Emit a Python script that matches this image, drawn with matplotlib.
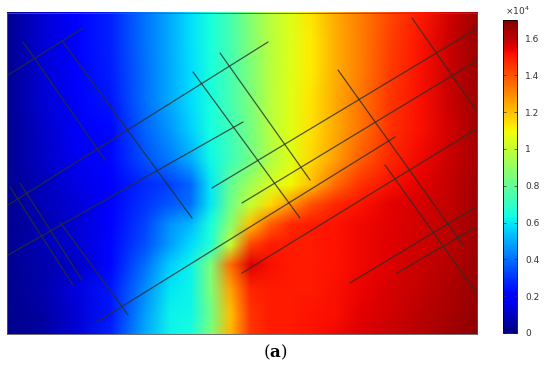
import numpy as np
import matplotlib
matplotlib.use("Agg")
import matplotlib.pyplot as plt
from matplotlib.image import NonUniformImage

# pressure field (units of 1e4), rows top -> bottom
x_pos = [7, 40, 75, 110, 145, 170, 190, 210, 230, 250, 270, 290, 310, 335, 360, 390, 420, 450, 477]
y_pos = [13, 40, 70, 100, 130, 160, 185, 205, 225, 245, 265, 290, 315, 334]

p_y013 = [0.03, 0.12, 0.20, 0.27, 0.41, 0.50, 0.59, 0.65, 0.74, 0.87, 0.98, 1.05, 1.13, 1.24, 1.32, 1.42, 1.50, 1.58, 1.66]
p_y040 = [0.03, 0.12, 0.20, 0.27, 0.41, 0.50, 0.59, 0.65, 0.74, 0.86, 0.97, 1.05, 1.12, 1.23, 1.32, 1.43, 1.51, 1.59, 1.66]
p_y070 = [0.03, 0.12, 0.19, 0.26, 0.40, 0.50, 0.58, 0.65, 0.74, 0.85, 0.97, 1.05, 1.12, 1.23, 1.32, 1.44, 1.52, 1.59, 1.66]
p_y100 = [0.03, 0.12, 0.18, 0.25, 0.40, 0.50, 0.58, 0.65, 0.74, 0.85, 0.97, 1.06, 1.13, 1.24, 1.33, 1.45, 1.52, 1.59, 1.65]
p_y130 = [0.03, 0.10, 0.18, 0.22, 0.38, 0.47, 0.56, 0.64, 0.73, 0.84, 0.97, 1.06, 1.14, 1.24, 1.34, 1.46, 1.52, 1.58, 1.65]
p_y160 = [0.03, 0.10, 0.17, 0.22, 0.35, 0.42, 0.50, 0.63, 0.72, 0.83, 0.96, 1.05, 1.15, 1.26, 1.38, 1.48, 1.53, 1.59, 1.64]
p_y185 = [0.03, 0.08, 0.15, 0.20, 0.28, 0.32, 0.38, 0.60, 0.80, 0.93, 1.03, 1.10, 1.20, 1.35, 1.46, 1.52, 1.55, 1.60, 1.65]
p_y205 = [0.03, 0.08, 0.13, 0.20, 0.30, 0.36, 0.40, 0.60, 0.83, 1.00, 1.15, 1.28, 1.40, 1.48, 1.51, 1.55, 1.57, 1.60, 1.65]
p_y225 = [0.03, 0.07, 0.12, 0.20, 0.33, 0.46, 0.52, 0.65, 0.88, 1.20, 1.38, 1.47, 1.50, 1.51, 1.53, 1.55, 1.58, 1.61, 1.65]
p_y245 = [0.03, 0.08, 0.12, 0.22, 0.35, 0.48, 0.58, 0.66, 1.00, 1.42, 1.50, 1.50, 1.50, 1.51, 1.53, 1.56, 1.58, 1.61, 1.65]
p_y265 = [0.03, 0.07, 0.10, 0.22, 0.40, 0.56, 0.62, 0.85, 1.35, 1.56, 1.52, 1.50, 1.50, 1.51, 1.53, 1.56, 1.59, 1.62, 1.66]
p_y290 = [0.02, 0.06, 0.14, 0.25, 0.45, 0.60, 0.62, 0.85, 1.25, 1.48, 1.50, 1.50, 1.50, 1.52, 1.54, 1.57, 1.60, 1.63, 1.66]
p_y315 = [0.02, 0.05, 0.12, 0.25, 0.48, 0.62, 0.63, 0.82, 1.20, 1.45, 1.50, 1.50, 1.51, 1.52, 1.55, 1.58, 1.61, 1.64, 1.67]
p_y334 = [0.02, 0.05, 0.13, 0.27, 0.50, 0.62, 0.65, 0.85, 1.22, 1.45, 1.50, 1.50, 1.51, 1.53, 1.56, 1.59, 1.62, 1.65, 1.67]

# fracture segments (x0, y0, x1, y1), y measured from the top
fractures = [
    (8, 75, 83, 28),
    (23, 42, 105, 160),
    (63, 42, 192, 218),
    (8, 205, 268, 42),
    (8, 255, 243, 122),
    (10, 187, 73, 285),
    (20, 183, 82, 280),
    (60, 222, 128, 315),
    (97, 322, 395, 137),
    (193, 72, 300, 218),
    (220, 53, 310, 180),
    (212, 188, 478, 28),
    (242, 203, 478, 60),
    (242, 273, 478, 128),
    (338, 70, 463, 245),
    (412, 18, 476, 110),
    (385, 165, 476, 292),
    (350, 283, 476, 207),
    (397, 273, 476, 227),
]

cbar_ticks = [0, 0.2, 0.4, 0.6, 0.8, 1.0, 1.2, 1.4, 1.6]
cbar_labels = ['0', '0.2', '0.4', '0.6', '0.8', '1', '1.2', '1.4', '1.6']

field = np.array([p_y013, p_y040, p_y070, p_y100, p_y130, p_y160, p_y185,
                  p_y205, p_y225, p_y245, p_y265, p_y290, p_y315, p_y334])

fig = plt.figure(figsize=(5.5, 3.74), dpi=100)
ax = fig.add_axes([7 / 550, 1 - 334 / 374, 470 / 550, 321 / 374])
im = NonUniformImage(ax, interpolation='bilinear', cmap='jet',
                     extent=(x_pos[0], x_pos[-1], y_pos[-1], y_pos[0]))
im.set_data(np.array(x_pos, float), np.array(y_pos, float), field)
im.set_clim(0, 1.7)
ax.add_image(im)
for x0, y0, x1, y1 in fractures:
    ax.plot([x0, x1], [y0, y1], color='#2a2f2a', lw=0.9, alpha=0.8, solid_capstyle='round')
ax.set_xlim(7, 477)
ax.set_ylim(334, 13)
ax.set_xticks([])
ax.set_yticks([])
for s in ax.spines.values():
    s.set_linewidth(0.6)
    s.set_color('#555555')

cax = fig.add_axes([503 / 550, 1 - 333 / 374, 14 / 550, 313 / 374])
cb = fig.colorbar(im, cax=cax)
cb.set_ticks(cbar_ticks)
cb.set_ticklabels(cbar_labels)
cax.tick_params(direction='in', length=2.5, width=0.5, left=True, right=True,
                labelsize=6.5, labelcolor='#333333', color='#333333', pad=6)
cb.outline.set_linewidth(0.6)
fig.text(505 / 550, 1 - 11 / 374, r'$\times10^4$', fontsize=6.5, color='#333333', va='center')

plt.rcParams['mathtext.fontset'] = 'dejavuserif'
fig.text(0.5, 1 - 352 / 374, r'($\mathbf{a}$)', fontsize=12, ha='center', va='center',
         family='DejaVu Serif')

fig.savefig('out.png', dpi=100)
